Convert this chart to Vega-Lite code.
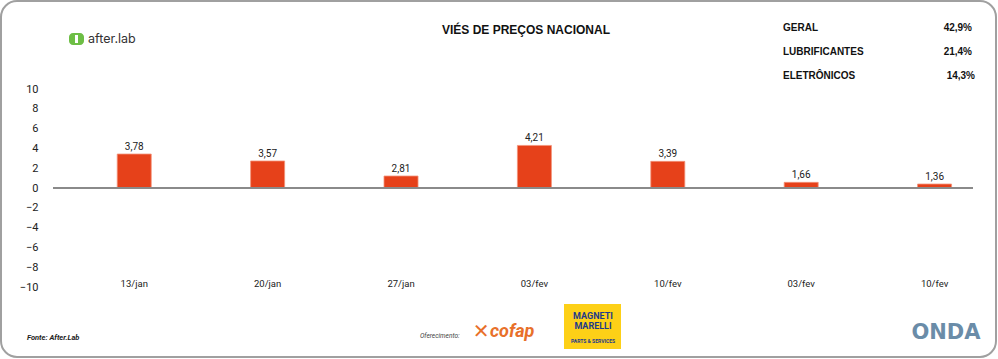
{
  "$schema": "https://vega.github.io/schema/vega-lite/v6.json",
  "autosize": {"type": "none"},
  "padding": {"left": 53, "top": 89, "right": 25, "bottom": 72},
  "width": 920,
  "height": 198,
  "background": "white",
  "config": {"view": {"stroke": null}, "axisY": {"labelOverlap": false, "grid": false, "domain": false, "ticks": false, "labelPadding": 15, "labelFont": "Roboto", "labelFontSize": 11, "labelColor": "#222", "title": null, "zindex": 1}},
  "datasets": {
    "vies": [
      {"ordem": 1, "semana": "13/jan", "valor": 3.43, "rotulo": "3,78"},
      {"ordem": 2, "semana": "20/jan", "valor": 2.73, "rotulo": "3,57"},
      {"ordem": 3, "semana": "27/jan", "valor": 1.21, "rotulo": "2,81"},
      {"ordem": 4, "semana": "03/fev", "valor": 4.3, "rotulo": "4,21"},
      {"ordem": 5, "semana": "10/fev", "valor": 2.69, "rotulo": "3,39"},
      {"ordem": 6, "semana": "03/fev", "valor": 0.57, "rotulo": "1,66"},
      {"ordem": 7, "semana": "10/fev", "valor": 0.4, "rotulo": "1,36"}
    ]
  },
  "layer": [
    {
      "data": {"values": [{"k": 1}]},
      "mark": {"type": "rect", "x": -52, "x2": 943, "y": -88, "y2": 268, "filled": false, "stroke": "#a0a0a0", "strokeWidth": 2, "cornerRadius": 16}
    },
    {
      "data": {"name": "vies"},
      "mark": {"type": "bar", "color": "#E6411A", "stroke": "#F3937A", "strokeWidth": 0.8},
      "encoding": {
        "x": {"field": "ordem", "type": "ordinal", "scale": {"paddingInner": 0.745, "paddingOuter": 0.321, "align": 0.75, "round": false}, "axis": null},
        "y": {"field": "valor", "type": "quantitative", "scale": {"domain": [-10, 10], "nice": false},
          "axis": {"values": [-10, -8, -6, -4, -2, 0, 2, 4, 6, 8, 10], "labelOverlap": false, "labelSeparation": 0}}
      }
    },
    {
      "data": {"name": "vies"},
      "mark": {"type": "rule", "color": "#8a8a8a", "strokeWidth": 1.5},
      "encoding": {"y": {"datum": 0, "type": "quantitative", "axis": {"values": [-10, -8, -6, -4, -2, 0, 2, 4, 6, 8, 10], "labelOverlap": false, "labelSeparation": 0}}}
    },
    {
      "data": {"name": "vies"},
      "mark": {"type": "text", "baseline": "alphabetic", "dy": -4, "font": "Roboto", "fontSize": 10, "color": "#222"},
      "encoding": {
        "x": {"field": "ordem", "type": "ordinal"},
        "y": {"field": "valor", "type": "quantitative", "axis": {"values": [-10, -8, -6, -4, -2, 0, 2, 4, 6, 8, 10], "labelOverlap": false, "labelSeparation": 0}},
        "text": {"field": "rotulo"}
      }
    },
    {
      "data": {"name": "vies"},
      "mark": {"type": "text", "baseline": "middle", "y": 195, "font": "Roboto", "fontSize": 9.5, "color": "#222"},
      "encoding": {
        "x": {"field": "ordem", "type": "ordinal"},
        "text": {"field": "semana"}
      }
    },
    {
      "data": {"values": [{"t": "VIÉS DE PREÇOS NACIONAL"}]},
      "mark": {"type": "text", "x": 473, "y": -59, "align": "center", "baseline": "middle", "font": "Liberation Sans", "fontWeight": "bold", "fontSize": 12, "color": "#111"},
      "encoding": {"text": {"field": "t"}}
    },
    {
      "data": {"values": [{"t": "GERAL"}]},
      "mark": {"type": "text", "x": 730, "y": -61, "align": "left", "baseline": "middle", "font": "Liberation Sans", "fontWeight": "bold", "fontSize": 10, "color": "#111"},
      "encoding": {"text": {"field": "t"}}
    },
    {
      "data": {"values": [{"t": "LUBRIFICANTES"}]},
      "mark": {"type": "text", "x": 730, "y": -37, "align": "left", "baseline": "middle", "font": "Liberation Sans", "fontWeight": "bold", "fontSize": 10, "color": "#111"},
      "encoding": {"text": {"field": "t"}}
    },
    {
      "data": {"values": [{"t": "ELETRÔNICOS"}]},
      "mark": {"type": "text", "x": 730, "y": -13, "align": "left", "baseline": "middle", "font": "Liberation Sans", "fontWeight": "bold", "fontSize": 10, "color": "#111"},
      "encoding": {"text": {"field": "t"}}
    },
    {
      "data": {"values": [{"t": "42,9%"}]},
      "mark": {"type": "text", "x": 919, "y": -61, "align": "right", "baseline": "middle", "font": "Liberation Sans", "fontWeight": "bold", "fontSize": 10, "color": "#111"},
      "encoding": {"text": {"field": "t"}}
    },
    {
      "data": {"values": [{"t": "21,4%"}]},
      "mark": {"type": "text", "x": 919, "y": -37, "align": "right", "baseline": "middle", "font": "Liberation Sans", "fontWeight": "bold", "fontSize": 10, "color": "#111"},
      "encoding": {"text": {"field": "t"}}
    },
    {
      "data": {"values": [{"t": "14,3%"}]},
      "mark": {"type": "text", "x": 922, "y": -13, "align": "right", "baseline": "middle", "font": "Liberation Sans", "fontWeight": "bold", "fontSize": 10, "color": "#111"},
      "encoding": {"text": {"field": "t"}}
    },
    {
      "data": {"values": [{"t": "after.lab"}]},
      "mark": {"type": "text", "x": 35, "y": -50, "align": "left", "baseline": "middle", "font": "Inter", "fontSize": 12.5, "color": "#333", "letterSpacing": -0.3},
      "encoding": {"text": {"field": "t"}}
    },
    {
      "data": {"values": [{"k": 1}]},
      "mark": {"type": "rect", "x": 16, "x2": 31, "y": -56, "y2": -44, "fill": "#6DBE45", "cornerRadius": 4}
    },
    {
      "data": {"values": [{"k": 1}]},
      "mark": {"type": "rect", "x": 22, "x2": 25, "y": -54, "y2": -46, "fill": "white"}
    },
    {
      "data": {"values": [{"t": "Fonte: After.Lab"}]},
      "mark": {"type": "text", "x": -26, "y": 249, "align": "left", "baseline": "middle", "font": "Roboto", "fontStyle": "italic", "fontWeight": "bold", "fontSize": 7.5, "color": "#222"},
      "encoding": {"text": {"field": "t"}}
    },
    {
      "data": {"values": [{"t": "Oferecimento:"}]},
      "mark": {"type": "text", "x": 367, "y": 247, "align": "left", "baseline": "middle", "font": "Roboto", "fontStyle": "italic", "fontSize": 6.5, "color": "#444"},
      "encoding": {"text": {"field": "t"}}
    },
    {
      "data": {"values": [{"t": "✕"}]},
      "mark": {"type": "text", "x": 428, "y": 243, "align": "center", "baseline": "middle", "font": "DejaVu Sans", "fontWeight": "bold", "fontSize": 20, "color": "#E8702A"},
      "encoding": {"text": {"field": "t"}}
    },
    {
      "data": {"values": [{"t": "cofap"}]},
      "mark": {"type": "text", "x": 437, "y": 243, "align": "left", "baseline": "middle", "font": "Roboto", "fontStyle": "italic", "fontWeight": "bold", "fontSize": 18, "color": "#E8702A"},
      "encoding": {"text": {"field": "t"}}
    },
    {
      "data": {"values": [{"k": 1}]},
      "mark": {"type": "rect", "x": 511, "x2": 568, "y": 215, "y2": 260, "fill": "#FDD017"}
    },
    {
      "data": {"values": [{"t": "MAGNETI"}]},
      "mark": {"type": "text", "x": 540, "y": 227, "align": "center", "baseline": "middle", "font": "Roboto", "fontWeight": "bold", "fontSize": 9, "color": "#1E3A8A"},
      "encoding": {"text": {"field": "t"}}
    },
    {
      "data": {"values": [{"t": "MARELLI"}]},
      "mark": {"type": "text", "x": 540, "y": 237, "align": "center", "baseline": "middle", "font": "Roboto", "fontWeight": "bold", "fontSize": 9, "color": "#1E3A8A"},
      "encoding": {"text": {"field": "t"}}
    },
    {
      "data": {"values": [{"t": "PARTS & SERVICES"}]},
      "mark": {"type": "text", "x": 540, "y": 252, "align": "center", "baseline": "middle", "font": "Roboto", "fontWeight": "bold", "fontSize": 5, "color": "#1E3A8A"},
      "encoding": {"text": {"field": "t"}}
    },
    {
      "data": {"values": [{"t": "ONDA"}]},
      "mark": {"type": "text", "x": 893, "y": 244, "align": "center", "baseline": "middle", "font": "DejaVu Sans", "fontWeight": "bold", "fontSize": 21, "color": "#6a8ca8", "letterSpacing": 0},
      "encoding": {"text": {"field": "t"}}
    }
  ]
}
